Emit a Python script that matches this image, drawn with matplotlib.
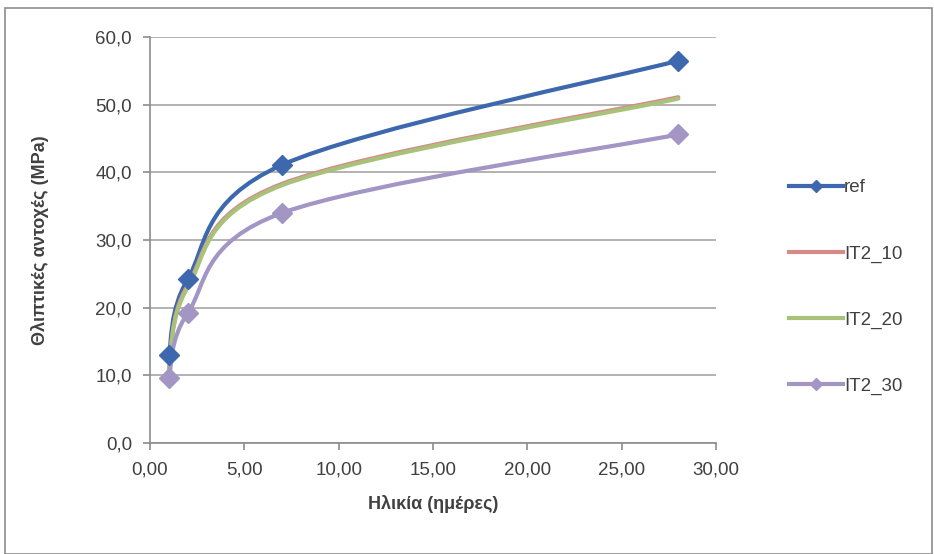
import matplotlib
matplotlib.use("Agg")
from matplotlib import pyplot as plt
from matplotlib.path import Path
from matplotlib.patches import PathPatch, Rectangle
from matplotlib.lines import Line2D
from matplotlib.ticker import FuncFormatter, MultipleLocator

plt.rcParams['font.family'] = ['Liberation Sans', 'DejaVu Sans']

# data
days = [1, 2, 7, 28]
ref = [13.0, 24.2, 41.1, 56.5]
it2_10 = [11.0, 23.3, 38.3, 51.1]
it2_20 = [10.8, 23.0, 38.1, 50.9]
it2_30 = [9.6, 19.2, 34.0, 45.6]

series = [
    ("ref", ref, "#3d68ad", "D"),
    ("IT2_10", it2_10, "#d58a88", None),
    ("IT2_20", it2_20, "#a9c27a", None),
    ("IT2_30", it2_30, "#a395c4", "D"),
]


def smooth_path(xs, ys):
    # Excel-like smoothed line: cubic Bezier with 1/6 tangents
    pts = list(zip(xs, ys))
    verts = [pts[0]]
    codes = [Path.MOVETO]
    n = len(pts)
    for i in range(n - 1):
        p0 = pts[max(i - 1, 0)]
        p1 = pts[i]
        p2 = pts[i + 1]
        p3 = pts[min(i + 2, n - 1)]
        c1 = (p1[0] + (p2[0] - p0[0]) / 6, p1[1] + (p2[1] - p0[1]) / 6)
        c2 = (p2[0] - (p3[0] - p1[0]) / 6, p2[1] - (p3[1] - p1[1]) / 6)
        verts += [c1, c2, p2]
        codes += [Path.CURVE4] * 3
    return Path(verts, codes)


fig = plt.figure(figsize=(9.34, 5.54), dpi=100)
fig.patches.append(Rectangle((5 / 934, 0), 927 / 934, 546 / 554, transform=fig.transFigure,
                             fill=False, edgecolor="#8c8c8c", linewidth=1.2))

ax = fig.add_axes([150 / 934, 1 - 443 / 554, 566 / 934, 406 / 554])
ax.set_xlim(0, 30)
ax.set_ylim(0, 60)

for label, vals, color, marker in series:
    ax.add_patch(PathPatch(smooth_path(days, vals), fill=False, edgecolor=color,
                           linewidth=3.0, capstyle="round", joinstyle="round", zorder=3))
    if marker:
        ax.plot(days, vals, linestyle="none", marker=marker, markersize=10,
                color=color, zorder=4)

ax.yaxis.set_major_locator(MultipleLocator(10))
ax.xaxis.set_major_locator(MultipleLocator(5))
ax.yaxis.set_major_formatter(FuncFormatter(lambda v, p: f"{v:.1f}".replace(".", ",")))
ax.xaxis.set_major_formatter(FuncFormatter(lambda v, p: f"{v:.2f}".replace(".", ",")))
ax.grid(axis="y", color="#a6a6a6", linewidth=1.2)
ax.set_axisbelow(True)
for side in ["top", "right"]:
    ax.spines[side].set_visible(False)
for side in ["left", "bottom"]:
    ax.spines[side].set_color("#8c8c8c")
    ax.spines[side].set_linewidth(1.2)
ax.tick_params(colors="#8c8c8c", labelcolor="#404040", labelsize=13.5, length=5, width=1.2)
ax.tick_params(axis="x", pad=8)
ax.tick_params(axis="y", pad=8)

ax.set_xlabel("Ηλικία (ημέρες)", fontsize=13, fontweight="bold", color="#404040", labelpad=12)
ax.set_ylabel("Θλιπτικές αντοχές (MPa)", fontsize=13, fontweight="bold", color="#404040", labelpad=33)

handles = [Line2D([], [], color=c, linewidth=3.0, marker=m, markersize=6) for _, _, c, m in series]
fig.legend(handles, [s[0] for s in series], loc="center left", bbox_to_anchor=(772 / 934, 1 - 287 / 554),
           frameon=False, fontsize=13.5, handlelength=2.9, handletextpad=0.05, labelspacing=2.6,
           labelcolor="#404040")

fig.savefig("out.png", dpi=100)
